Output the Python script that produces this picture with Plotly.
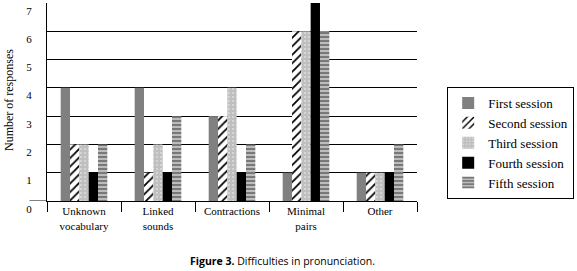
import plotly.graph_objects as go

categories = ["Unknown<br>vocabulary", "Linked<br>sounds", "Contractions", "Minimal<br>pairs", "Other"]
series_names = ["First session", "Second session", "Third session", "Fourth session", "Fifth session"]
first = [4, 4, 3, 1, 1]
second = [2, 1, 3, 6, 1]
third = [2, 2, 4, 6, 1]
fourth = [1, 1, 1, 7, 1]
fifth = [2, 3, 2, 6, 2]
y_ticks = [0, 1, 2, 3, 4, 5, 6, 7]

values = [first, second, third, fourth, fifth]
markers = [
    dict(color="#808080", line=dict(width=0)),
    dict(color="white", line=dict(width=0),
         pattern=dict(shape="/", fgcolor="black", bgcolor="white", fgopacity=1,
                      fillmode="replace", size=6, solidity=0.3)),
    dict(color="#c4c4c4", line=dict(width=0),
         pattern=dict(shape=".", fgcolor="white", bgcolor="#bfbfbf", fgopacity=1,
                      fillmode="replace", size=4, solidity=0.08)),
    dict(color="black", line=dict(width=0)),
    dict(color="#808080", line=dict(width=0),
         pattern=dict(shape="-", fgcolor="#787878", bgcolor="white", fgopacity=1,
                      fillmode="replace", size=4, solidity=0.75)),
]

serif = "'Liberation Serif', 'DejaVu Serif', serif"
fig = go.Figure()
for name, vals, mk in zip(series_names, values, markers):
    fig.add_trace(go.Bar(x=categories, y=vals, name=name, marker=mk))

L, R, T, B = 47, 150, 3, 70
W, H = 577, 271
pw, ph = W - L - R, H - T - B

fig.update_layout(
    width=W, height=H,
    margin=dict(l=L, r=R, t=T, b=B, pad=0),
    paper_bgcolor="white", plot_bgcolor="white",
    barmode="group", bargap=0.37, bargroupgap=0,
    font=dict(family=serif, size=11, color="black"),
    showlegend=True,
    legend=dict(x=(458 - L) / pw, y=(H - B - 87) / ph, xanchor="left", yanchor="top",
                bgcolor="white", bordercolor="black", borderwidth=1,
                font=dict(family=serif, size=13, color="black"),
                tracegroupgap=0, itemwidth=30),
    xaxis=dict(type="category", showgrid=False, showline=True, linecolor="black", linewidth=1,
               ticks="outside", tickson="boundaries", ticklen=10, tickcolor="black", tickwidth=1,
               tickfont=dict(family=serif, size=11, color="black"), fixedrange=True),
    yaxis=dict(range=[0, 7], tickvals=y_ticks, ticktext=[str(v) for v in y_ticks],
               showgrid=True, gridcolor="black", gridwidth=1,
               showline=True, linecolor="black", linewidth=1, zeroline=False,
               ticks="", ticklabelposition="outside bottom", ticklabelstandoff=12,
               tickfont=dict(family=serif, size=11, color="black"), fixedrange=True),
)

# baseline extension to the left
fig.add_shape(type="line", xref="paper", yref="y", x0=(29 - L) / pw, x1=0, y0=0, y1=0,
              line=dict(color="black", width=1))

fig.add_annotation(text="Number of responses", xref="paper", yref="paper",
                   x=(8 - L) / pw, y=(H - B - 100) / ph, textangle=-90, showarrow=False,
                   xanchor="center", yanchor="middle",
                   font=dict(family=serif, size=12, color="black"))

fig.add_annotation(text="<b>Figure 3.</b> Difficulties in pronunciation.", xref="paper", yref="paper",
                   x=(289 - L) / pw, y=-(261 - (H - B)) / ph, showarrow=False,
                   xanchor="center", yanchor="middle",
                   font=dict(family="'Open Sans', sans-serif", size=10.5, color="black"))

fig.write_html("out.html")
